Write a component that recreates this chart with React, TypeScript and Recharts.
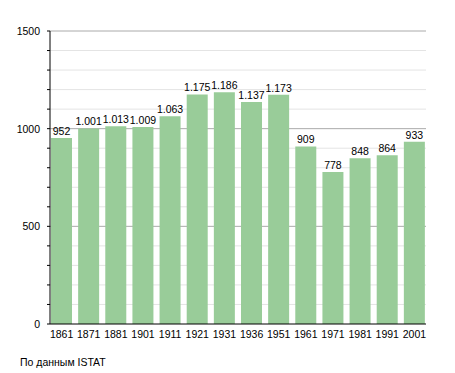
import React from 'react';
import {
  Bar,
  BarChart,
  CartesianGrid,
  LabelList,
  XAxis,
  YAxis,
} from 'recharts';

// ─── Data ────────────────────────────────────────────────────────────

const YEARS = [
  '1861', '1871', '1881', '1901', '1911', '1921', '1931',
  '1936', '1951', '1961', '1971', '1981', '1991', '2001',
];

const POPULATION = [
  952, 1001, 1013, 1009, 1063, 1175, 1186,
  1137, 1173, 909, 778, 848, 864, 933,
];

const Y_TICKS = [
  0, 100, 200, 300, 400, 500, 600, 700, 800, 900,
  1000, 1100, 1200, 1300, 1400, 1500,
];

const MINOR_LINES = [100, 200, 300, 400, 600, 700, 800, 900, 1100, 1200, 1300, 1400];
const Y_LABELS = [0, 500, 1000, 1500];
const MAJOR_LINES = [500, 1000, 1500];

const SOURCE = 'По данным ISTAT';

// ─── Helpers ─────────────────────────────────────────────────────────

const FONT = '"Liberation Sans", Arial, sans-serif';

function formatThousands(value: number): string {
  return String(value).replace(/\B(?=(\d{3})+(?!\d))/g, '.');
}

const YTick = (props: any) => {
  const { x, y, payload } = props;
  const v = payload?.value as number;
  return (
    <g>
      <line x1={x + 5} x2={x + 8} y1={y} y2={y} stroke="#000" strokeWidth={1} />
      {Y_LABELS.includes(v) && (
        <text x={x - 2} y={y + 4} textAnchor="end" fontSize={10.5} fill="#000" fontFamily={FONT}>
          {v}
        </text>
      )}
    </g>
  );
};

// ─── Component ───────────────────────────────────────────────────────

export default function App() {
  const data = YEARS.map((year, i) => ({ year, value: POPULATION[i] }));

  return (
    <div style={{ position: 'absolute', left: 0, top: 0, width: 455, height: 373, background: '#fff' }}>
      <BarChart
        width={455}
        height={373}
        data={data}
        margin={{ top: 31, right: 29, left: 0, bottom: 19 }}
      >
        <CartesianGrid vertical={false} stroke="#e4e4e4" horizontalValues={MINOR_LINES} />
        <CartesianGrid vertical={false} stroke="#aaaaaa" horizontalValues={MAJOR_LINES} />
        <XAxis
          dataKey="year"
          padding={{ left: -2, right: -2 }}
          axisLine={{ stroke: '#000' }}
          tickLine={false}
          tick={{ fontSize: 10.5, fill: '#000', fontFamily: FONT }}
          interval={0}
          tickMargin={1}
        />
        <YAxis
          domain={[0, 1500]}
          ticks={Y_TICKS}
          interval={0}
          width={50}
          axisLine={{ stroke: '#000' }}
          tickLine={false}
          tick={<YTick />}
        />
        <Bar dataKey="value" fill="#99cc99" barSize={21} isAnimationActive={false}>
          <LabelList
            dataKey="value"
            position="top"
            offset={3}
            formatter={(v: any) => formatThousands(Number(v))}
            style={{ fontSize: 10.5, fill: '#000', fontFamily: FONT }}
          />
        </Bar>
      </BarChart>
      <div
        style={{
          position: 'absolute',
          left: 20,
          top: 356,
          fontSize: 10.5,
          fontFamily: FONT,
          color: '#000',
          lineHeight: '12px',
        }}
      >
        {SOURCE}
      </div>
    </div>
  );
}
